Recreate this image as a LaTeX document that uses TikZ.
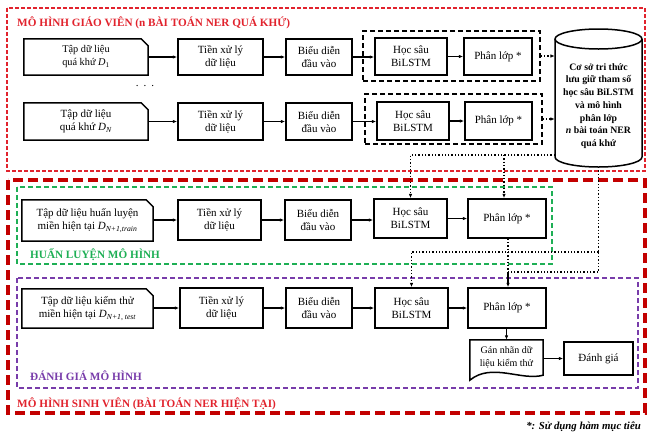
\documentclass[tikz,border=0pt]{standalone}
\usepackage{fontspec}
\setmainfont{Liberation Serif}
\usetikzlibrary{arrows.meta,calc}
\definecolor{tred}{RGB}{225,35,45}
\definecolor{sred}{RGB}{195,0,0}
\definecolor{hgreen}{RGB}{30,175,85}
\definecolor{epurple}{RGB}{120,60,170}
\begin{document}
\begin{tikzpicture}[x=1pt,y=-1pt,
 proc/.style={draw, line width=1.5pt, align=center, inner sep=0pt, font=\fontsize{11}{13}\selectfont},
 doctext/.style={align=center, inner sep=0pt, font=\fontsize{11}{13}\selectfont},
 docline/.style={line width=1.5pt},
 arr/.style={-{Latex[length=4.5pt,width=3.6pt]}, line width=1.1pt},
 dotarr/.style={dotted, line width=1.3pt, -{Latex[length=4.5pt,width=3.6pt]}},
 dotln/.style={dotted, line width=1.3pt},
 grp/.style={draw, line width=1.5pt, dash pattern=on 5pt off 3pt},
 lbl/.style={font=\bfseries\fontsize{11.2}{13}\selectfont, anchor=west, inner sep=0pt}
]
\useasboundingbox (0,0) rectangle (648,432);

% outer frames
\draw[tred, line width=1.2pt, dash pattern=on 4pt off 2pt] (7,8) rectangle (645,171);
\draw[sred, line width=3.2pt, dash pattern=on 10pt off 5pt] (8,180) rectangle (645,413);
\draw[hgreen, line width=1.4pt, dash pattern=on 5pt off 3pt] (17,187) rectangle (552,264);
\draw[epurple, line width=1.4pt, dash pattern=on 5pt off 3pt] (17,278) rectangle (638,388);

\node[lbl, text=tred] (ttitle) at (17,23) {MÔ HÌNH GIÁO VIÊN (n BÀI TOÁN NER QUÁ KHỨ)};
\node[lbl, text=hgreen] (htitle) at (30,255) {HUẤN LUYỆN MÔ HÌNH};
\node[lbl, text=epurple] (etitle) at (30,376) {ĐÁNH GIÁ MÔ HÌNH};
\node[lbl, text=tred] (stitle) at (17,404) {MÔ HÌNH SINH VIÊN (BÀI TOÁN NER HIỆN TẠI)};
\node[font=\bfseries\itshape\fontsize{10.8}{12}\selectfont, anchor=east, inner sep=0pt] (foot) at (641,427) {*: Sử dụng hàm mục tiêu};

% groups (teacher)
\node[grp, minimum width=177pt, minimum height=50pt, inner sep=0pt] (g1) at (451.5,56) {};
\node[grp, minimum width=177pt, minimum height=50pt, inner sep=0pt] (g2) at (453.5,119) {};

% row 1
\node[doctext, minimum width=124pt, minimum height=36pt, font=\fontsize{10.3}{13}\selectfont] (d1) at (86,57) {Tập dữ liệu\\quá khứ \textit{D}\textsubscript{1}};
\node[proc, minimum width=85pt, minimum height=36pt] (t1) at (220.5,57) {Tiền xử lý\\dữ liệu};
\node[proc, minimum width=66pt, minimum height=36pt] (b1) at (319,57) {Biểu diễn\\đầu vào};
\node[proc, minimum width=72pt, minimum height=37pt] (h1) at (411,56.5) {Học sâu\\BiLSTM};
\node[proc, minimum width=68pt, minimum height=37pt] (p1) at (498,56.5) {Phân lớp *};

\node[inner sep=0pt, font=\fontsize{11}{13}\selectfont] (dots) at (145,86) {.\hspace{5pt}.\hspace{5pt}.};

% row 2
\node[doctext, minimum width=124pt, minimum height=37pt] (d2) at (86,121.5) {Tập dữ liệu\\quá khứ \textit{D}\textsubscript{\textit{N}}};
\node[proc, minimum width=85pt, minimum height=37pt] (t2) at (220.5,121.5) {Tiền xử lý\\dữ liệu};
\node[proc, minimum width=66pt, minimum height=37pt] (b2) at (319,121.5) {Biểu diễn\\đầu vào};
\node[proc, minimum width=72pt, minimum height=38pt] (h2) at (413,121) {Học sâu\\BiLSTM};
\node[proc, minimum width=67pt, minimum height=38pt] (p2) at (498.5,121) {Phân lớp *};

% row 3
\node[doctext, minimum width=131pt, minimum height=41pt] (d3) at (87.5,220.5) {Tập dữ liệu huấn luyện\\miền hiện tại \textit{D}\textsubscript{\textit{N+1,train}}};
\node[proc, minimum width=83pt, minimum height=40pt] (t3) at (219.5,220) {Tiền xử lý\\dữ liệu};
\node[proc, minimum width=66pt, minimum height=40pt] (b3) at (318,220) {Biểu diễn\\đầu vào};
\node[proc, minimum width=73pt, minimum height=39pt] (h3) at (410.5,218.5) {Học sâu\\BiLSTM};
\node[proc, minimum width=78pt, minimum height=39pt] (p3) at (507,218.5) {Phân lớp *};

% row 4
\node[doctext, minimum width=131pt, minimum height=39pt] (d4) at (87.5,308.5) {Tập dữ liệu kiểm thử\\miền hiện tại \textit{D}\textsubscript{\textit{N+1, test}}};
\node[proc, minimum width=83pt, minimum height=40pt] (t4) at (221.5,308) {Tiền xử lý\\dữ liệu};
\node[proc, minimum width=66pt, minimum height=40pt] (b4) at (319,308) {Biểu diễn\\đầu vào};
\node[proc, minimum width=73pt, minimum height=40pt] (h4) at (411.5,308) {Học sâu\\BiLSTM};
\node[proc, minimum width=78pt, minimum height=40pt] (p4) at (507,308) {Phân lớp *};

\node[doctext, minimum width=73pt, minimum height=34pt, font=\fontsize{10}{13}\selectfont] (gan) at (506.5,357) {Gán nhãn dữ\\liệu kiểm thử};
\node[proc, minimum width=69pt, minimum height=33pt] (dg) at (598.5,358.5) {Đánh giá};

% document outlines
\foreach \d in {d1,d2,d3,d4}{
 \draw[docline] (\d.south west) -- (\d.north west) -- ([xshift=-7pt]\d.north east) -- ([yshift=-7pt]\d.north east) -- (\d.south east) -- cycle;
}
\draw[docline] (gan.north west) -- (gan.north east) -- ([yshift=-1pt]gan.south east)
  .. controls ([xshift=-22pt,yshift=-7pt]gan.south east) and ([xshift=22pt,yshift=12pt]gan.south west) .. ([yshift=-6pt]gan.south west) -- cycle;

% knowledge base cylinder
\node[inner sep=0pt, minimum width=87pt, minimum height=138pt] (kb) at (598.5,98) {};
\draw[line width=1.5pt] (555,39) -- (555,157) arc[start angle=180, end angle=360, x radius=43.5pt, y radius=10pt] -- (642,39);
\draw[line width=1.5pt] (598.5,39) ellipse[x radius=43.5pt, y radius=10pt];
\node[align=center, inner sep=0pt, font=\bfseries\fontsize{9.8}{12.7}\selectfont] (kbt) at (598.5,106) {Cơ sở tri thức\\lưu giữ tham số\\học sâu BiLSTM\\và mô hình\\phân lớp\\\textit{n} bài toán NER\\quá khứ};

% solid arrows
\foreach \r in {1,2,3,4}{
 \draw[arr] (d\r.east |- t\r.west) -- (t\r.west);
 \draw[arr] (t\r) -- (b\r);
 \draw[arr] (b\r.east) -- (b\r.east -| h\r.west);
 \draw[arr] (h\r.east) -- (h\r.east -| p\r.west);
}
\draw[arr] (p4.south -| gan.north) -- (gan.north);
\draw[arr] (gan.east |- dg.west) -- (dg.west);

% dotted connectors teacher -> kb
\draw[dotarr] (g1.east) -- (g1.east -| kb.west);
\draw[dotarr] (g2.east) -- (g2.east -| kb.west);

% kb -> training
\coordinate (c1) at (555,155);
\draw[dotarr] (c1) -| (h3.north);
\draw[dotarr] (c1 -| 504,0) -- (504,0 |- p3.north);

% kb -> test
\coordinate (kbb) at (598.5,167);
\coordinate (j1) at (598.5,252);
\coordinate (j2) at (598.5,272);
\coordinate (j3) at (508,272);
\draw[dotln] (kbb) -- (j2) -- (j3);
\draw[dotarr] (j1) -| (h4.north);
\draw[dotln] (p3.south -| j3) -- (j3);
\draw[arr] (j3) -- (j3 |- p4.north);
\end{tikzpicture}
\end{document}
